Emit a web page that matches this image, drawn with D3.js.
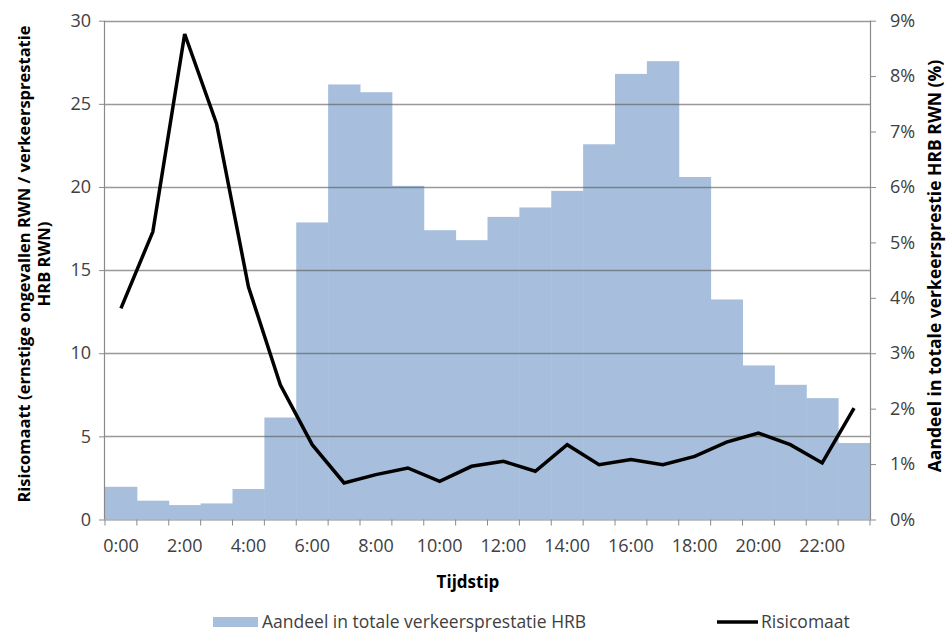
<!DOCTYPE html>
<html>
<head>
<meta charset="utf-8">
<script src="https://cdn.jsdelivr.net/npm/d3@7"></script>
<style>
  html, body { margin: 0; padding: 0; background: #fff; }
  svg { display: block; }
  text { font-family: "Open Sans", "Noto Sans", sans-serif; }
</style>
</head>
<body>
<svg id="chart" width="946" height="634"></svg>
<script>
// ---- data ----
const hours = ["0:00","1:00","2:00","3:00","4:00","5:00","6:00","7:00","8:00","9:00","10:00","11:00",
               "12:00","13:00","14:00","15:00","16:00","17:00","18:00","19:00","20:00","21:00","22:00","23:00"];
// Aandeel in totale verkeersprestatie HRB (%)
const aandeel = [0.59,0.34,0.26,0.29,0.55,1.84,5.36,7.85,7.71,6.02,5.22,5.04,
                 5.46,5.63,5.93,6.77,8.04,8.27,6.18,3.97,2.78,2.43,2.19,1.38];
// Risicomaat
const risico = [12.7,17.3,29.2,23.8,14.0,8.1,4.5,2.2,2.7,3.1,2.3,3.2,
                3.5,2.9,4.5,3.3,3.6,3.3,3.8,4.65,5.2,4.5,3.4,6.7];
const leftTicks = [0,5,10,15,20,25,30];
const rightTicks = [0,1,2,3,4,5,6,7,8,9];
const xLabelHours = ["0:00","2:00","4:00","6:00","8:00","10:00","12:00","14:00","16:00","18:00","20:00","22:00"];
const seriesNames = ["Aandeel in totale verkeersprestatie HRB", "Risicomaat"];

// ---- layout ----
const svg = d3.select("#chart");
const L = 105, R = 870, T = 20.7, B = 519.5;
const barColor = "#a7bfdd";
const axisColor = "#8a8a8a";
const textColor = "#404040";

const x = d3.scaleBand().domain(hours).range([L, R]).paddingInner(0).paddingOuter(0);
const yL = d3.scaleLinear().domain([0, 30]).range([B, T]);
const yR = d3.scaleLinear().domain([0, 9]).range([B, T]);

// bars
svg.append("g").selectAll("rect").data(aandeel).join("rect")
  .attr("x", (d, i) => x(hours[i]))
  .attr("width", x.bandwidth() + 0.5)
  .attr("y", d => yR(d))
  .attr("height", d => B - yR(d))
  .attr("fill", barColor);

// gridlines (left axis), drawn over bars, translucent
svg.append("g").selectAll("line").data(leftTicks.filter(v => v > 0)).join("line")
  .attr("x1", L).attr("x2", R)
  .attr("y1", d => Math.round(yL(d)) + 0.5).attr("y2", d => Math.round(yL(d)) + 0.5)
  .attr("stroke", "#5a5a5a").attr("stroke-opacity", 0.62).attr("stroke-width", 1.3);

// left axis
const gL = svg.append("g").attr("transform", `translate(${L},0)`)
  .call(d3.axisLeft(yL).tickValues(leftTicks).tickSize(6).tickPadding(8).tickFormat(d3.format("d")));
// right axis
const gR = svg.append("g").attr("transform", `translate(${R},0)`)
  .call(d3.axisRight(yR).tickValues(rightTicks).tickSize(6).tickPadding(14).tickFormat(d => d + "%"));
// bottom axis
const gB = svg.append("g").attr("transform", `translate(0,${B})`)
  .call(d3.axisBottom(x).tickSize(0).tickPadding(20)
    .tickFormat(d => xLabelHours.includes(d) ? d : ""));
// bottom tick marks at band boundaries
gB.append("g").selectAll("line").data(d3.range(hours.length + 1)).join("line")
  .attr("x1", i => L + i * x.step()).attr("x2", i => L + i * x.step())
  .attr("y1", 0).attr("y2", 6).attr("stroke", axisColor);

[gL, gR, gB].forEach(g => {
  g.select(".domain").attr("stroke", axisColor).attr("stroke-width", 1.2);
  g.selectAll(".tick line").attr("stroke", axisColor);
  g.selectAll(".tick text").attr("fill", textColor)
    .style("font-family", "'Open Sans', sans-serif").style("font-size", "18px");
});
gB.select(".domain").attr("d", `M${L},0.5H${R}`);
gL.select(".domain").attr("d", `M-0.5,${T}V${B}`);
gR.select(".domain").attr("d", `M0.5,${T}V${B}`);

// line
const line = d3.line()
  .x((d, i) => x(hours[i]) + x.bandwidth() / 2)
  .y(d => yL(d));
svg.append("path").datum(risico)
  .attr("d", line)
  .attr("fill", "none").attr("stroke", "#000").attr("stroke-width", 3.5)
  .attr("stroke-linejoin", "miter");

// axis titles
const leftTitle = svg.append("text")
  .attr("transform", `translate(30,264) rotate(-90)`)
  .attr("text-anchor", "middle")
  .attr("fill", "#000").style("font-weight", "bold").style("font-size", "16.5px");
leftTitle.append("tspan").attr("x", 0).attr("dy", 0).text("Risicomaatt (ernstige ongevallen RWN / verkeersprestatie");
leftTitle.append("tspan").attr("x", 0).attr("dy", 20).text("HRB RWN)");

svg.append("text")
  .attr("transform", `translate(941,266) rotate(-90)`)
  .attr("text-anchor", "middle")
  .attr("fill", "#000").style("font-weight", "bold").style("font-size", "17.5px")
  .text("Aandeel in totale verkeersprestie HRB RWN (%)");

svg.append("text")
  .attr("x", 468).attr("y", 588)
  .attr("text-anchor", "middle")
  .attr("fill", "#000").style("font-weight", "bold").style("font-size", "17px")
  .text("Tijdstip");

// legend
const lg = svg.append("g");
lg.append("rect").attr("x", 213).attr("y", 617).attr("width", 45).attr("height", 10).attr("fill", barColor);
lg.append("text").attr("x", 262).attr("y", 628).attr("fill", textColor)
  .style("font-size", "17.5px").text(seriesNames[0]);
lg.append("line").attr("x1", 717).attr("x2", 758).attr("y1", 622).attr("y2", 622)
  .attr("stroke", "#000").attr("stroke-width", 3.5);
lg.append("text").attr("x", 761).attr("y", 628).attr("fill", textColor)
  .style("font-size", "17.5px").text(seriesNames[1]);
</script>
</body>
</html>
